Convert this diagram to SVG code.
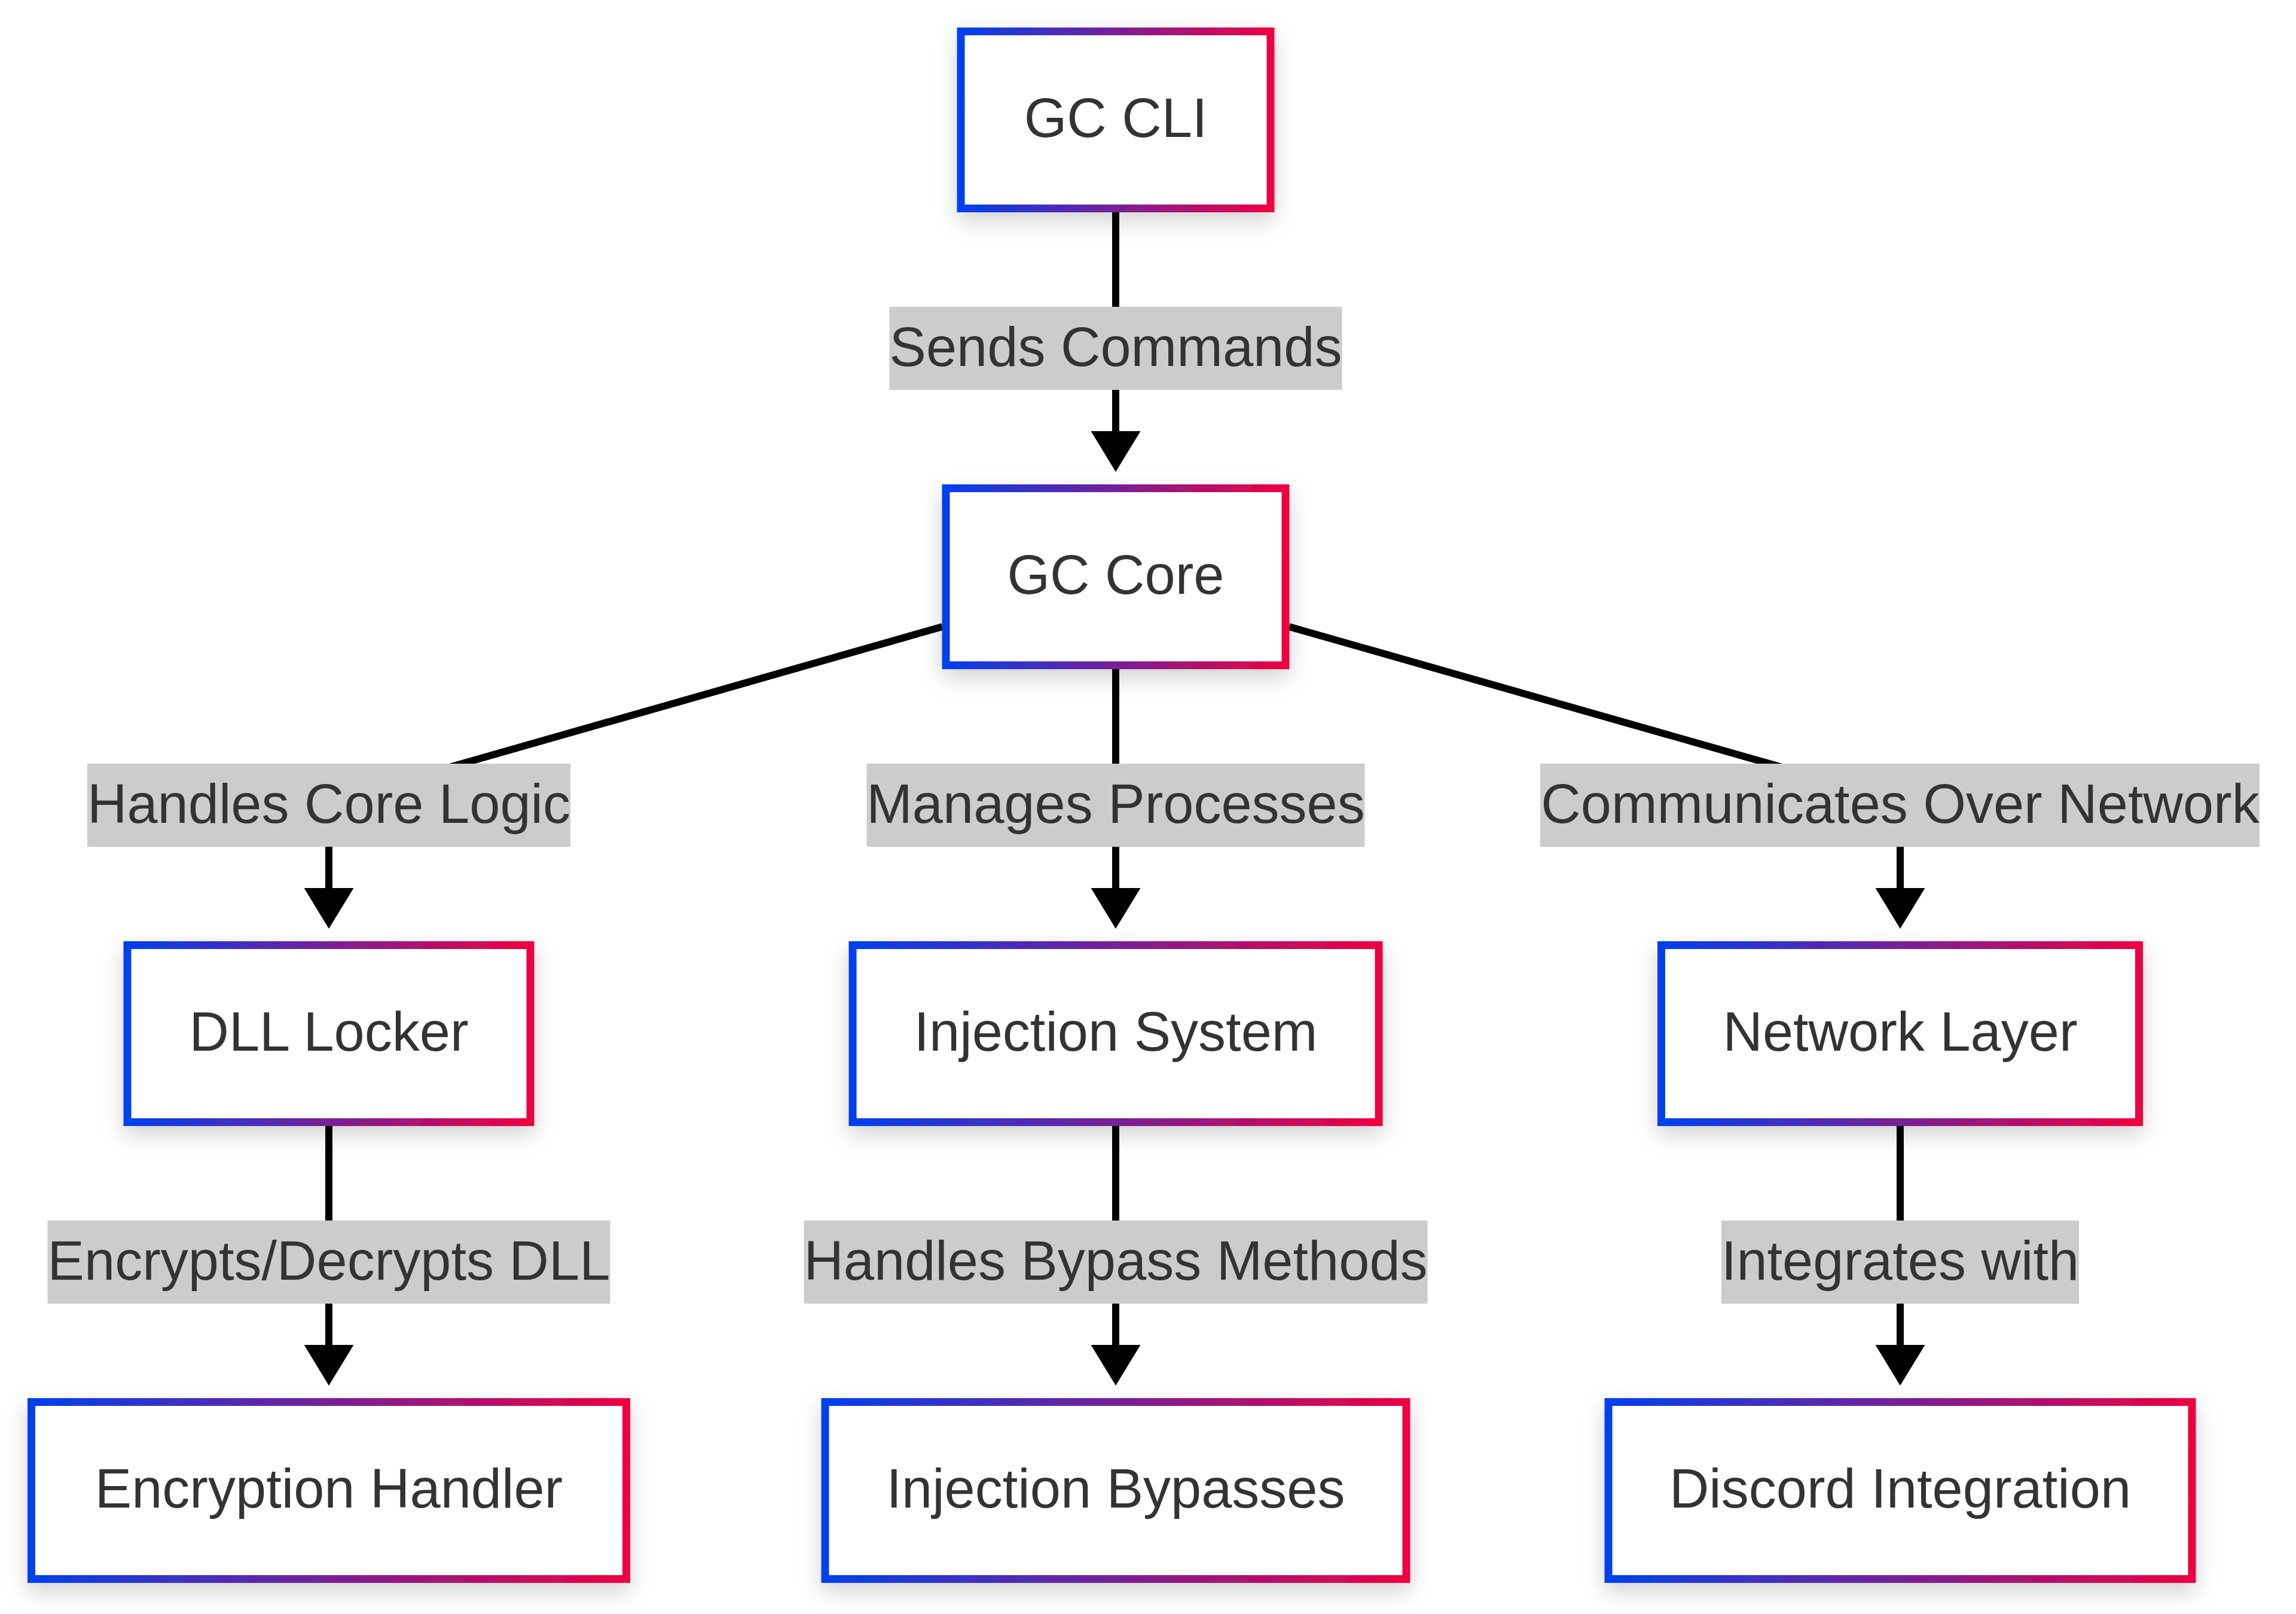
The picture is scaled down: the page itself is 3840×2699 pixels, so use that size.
<svg xmlns="http://www.w3.org/2000/svg" width="3840" height="2699" viewBox="0 0 3840 2699">
<style>
.node rect{fill:#ffffff;stroke:url(#grad);stroke-width:13;filter:url(#shadow)}
.ntext{font-family:"Liberation Sans",Arial,sans-serif;font-size:92px;fill:#333333;text-anchor:middle}
.edge{fill:none;stroke:#000000;stroke-width:12;marker-end:url(#arrow)}
.lbl rect{fill:#cccccc}
.lbl text{font-family:"Liberation Sans",Arial,sans-serif;font-size:92px;fill:#333333;text-anchor:middle}
</style>
<defs>
<linearGradient id="grad" x1="0" y1="0" x2="1" y2="0">
<stop offset="0" stop-color="#0040ef"/>
<stop offset="1" stop-color="#ef0040"/>
</linearGradient>
<filter id="shadow" x="-20%" y="-30%" width="140%" height="170%">
<feDropShadow dx="0" dy="14" stdDeviation="18" flood-color="#000000" flood-opacity="0.18"/>
</filter>
<marker id="arrow" markerUnits="userSpaceOnUse" markerWidth="68" markerHeight="83" refX="28" refY="41.5" orient="auto">
<path d="M0,0 L68,41.5 L0,83 z" fill="#000000"/>
</marker>
</defs>
<rect width="3840" height="2699" fill="#ffffff"/>
<g id="connectors">
<path class="edge" d="M1866 355 L1866 749"/>
<path class="edge" d="M1576 1048 L692 1300 C592 1330 550 1350 550 1400 L550 1513"/>
<path class="edge" d="M1866 1119 L1866 1513"/>
<path class="edge" d="M2156 1048 L3040 1300 C3140 1330 3178 1350 3178 1400 L3178 1513"/>
<path class="edge" d="M550 1883 L550 2277"/>
<path class="edge" d="M1866 1883 L1866 2277"/>
<path class="edge" d="M3178 1883 L3178 2277"/>
</g>
<g id="edge-labels">
<g class="lbl"><rect x="1487.5" y="513" width="757" height="139"/><text x="1866" y="612">Sends Commands</text></g>
<g class="lbl"><rect x="146" y="1277" width="808" height="139"/><text x="550" y="1376">Handles Core Logic</text></g>
<g class="lbl"><rect x="1449.5" y="1277" width="833" height="139"/><text x="1866" y="1376">Manages Processes</text></g>
<g class="lbl"><rect x="2576" y="1277" width="1203" height="139"/><text x="3178" y="1376">Communicates Over Network</text></g>
<g class="lbl"><rect x="79.5" y="2041" width="941" height="139"/><text x="550" y="2140">Encrypts/Decrypts DLL</text></g>
<g class="lbl"><rect x="1344.5" y="2041" width="1043" height="139"/><text x="1866" y="2140">Handles Bypass Methods</text></g>
<g class="lbl"><rect x="2879" y="2041" width="598" height="139"/><text x="3178" y="2140">Integrates with</text></g>
</g>
<g id="gc-cli" class="node"><rect x="1607" y="52.5" width="518" height="296"/><text class="ntext" x="1866" y="229">GC CLI</text></g>
<g id="gc-core" class="node"><rect x="1582" y="816.5" width="568" height="296"/><text class="ntext" x="1866" y="993">GC Core</text></g>
<g id="dll-locker" class="node"><rect x="213" y="1580.5" width="674" height="296"/><text class="ntext" x="550" y="1757">DLL Locker</text></g>
<g id="injection-system" class="node"><rect x="1426" y="1580.5" width="880" height="296"/><text class="ntext" x="1866" y="1757">Injection System</text></g>
<g id="network-layer" class="node"><rect x="2778.5" y="1580.5" width="799" height="296"/><text class="ntext" x="3178" y="1757">Network Layer</text></g>
<g id="encryption-handler" class="node"><rect x="52.5" y="2344.5" width="995" height="296"/><text class="ntext" x="550" y="2521">Encryption Handler</text></g>
<g id="injection-bypasses" class="node"><rect x="1380" y="2344.5" width="972" height="296"/><text class="ntext" x="1866" y="2521">Injection Bypasses</text></g>
<g id="discord-integration" class="node"><rect x="2690" y="2344.5" width="976" height="296"/><text class="ntext" x="3178" y="2521">Discord Integration</text></g>
</svg>
